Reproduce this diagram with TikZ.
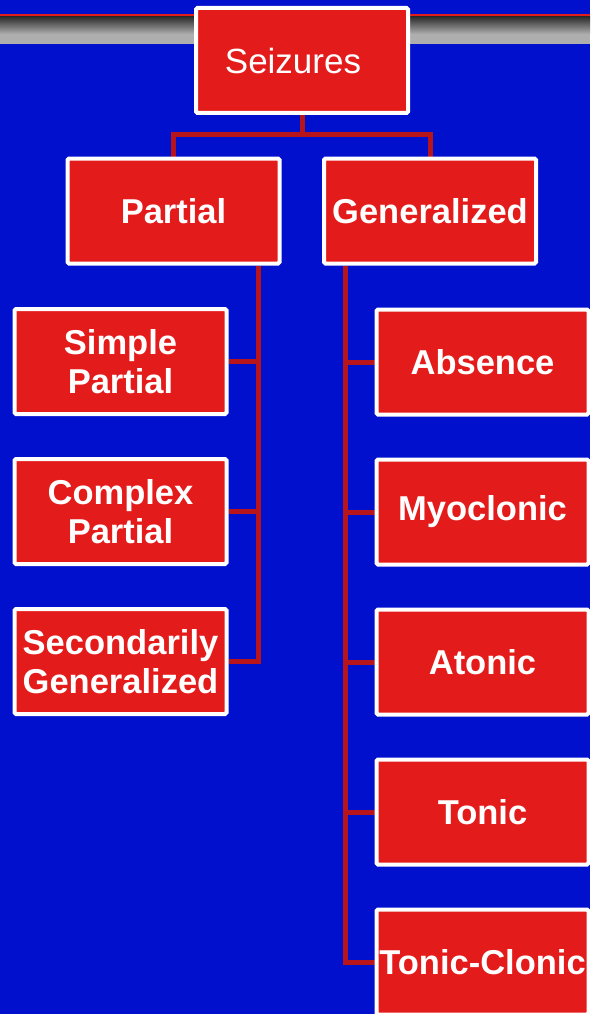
\documentclass[tikz,border=0pt]{standalone}
\usepackage{fontspec}
\setmainfont{Liberation Sans}
\definecolor{bgblue}{HTML}{0010CC}
\definecolor{boxred}{HTML}{E41B1B}
\definecolor{linered}{HTML}{B8141C}
\definecolor{banddark}{HTML}{2E2E2E}
\definecolor{bandlight}{HTML}{AEAEAE}
\pgfdeclarelayer{bglayer}
\pgfdeclarelayer{connlayer}
\pgfsetlayers{bglayer,connlayer,main}
\tikzset{
  box/.style={draw=white, line width=4pt, fill=boxred, minimum width=212pt, minimum height=105pt,
    inner sep=0pt, rounded corners=1.5pt, text=white, align=center,
    font=\fontsize{34.5}{39}\selectfont\bfseries},
  rootbox/.style={box, font=\fontsize{35}{39}\selectfont},
  conn/.style={draw=linered, line width=5pt, line join=miter}
}
\begin{document}
\begin{tikzpicture}[x=1pt,y=-1pt]
\useasboundingbox (0,0) rectangle (590,1014);
\begin{pgfonlayer}{bglayer}
\fill[bgblue] (0,0) rectangle (590,1014);
\fill[boxred] (0,14) rectangle (590,17);
\shade[top color=banddark, bottom color=bandlight] (0,17) rectangle (590,34);
\fill[bandlight] (0,34) rectangle (590,44);
\end{pgfonlayer}

% nodes
\node[rootbox] (seiz) at (302,60.5) {Seizures\hspace{18pt}};
\node[box] (partial) at (173.5,211) {Partial};
\node[box] (gen) at (430,211) {Generalized};
\node[box] (simple) at (120.5,361.5) {Simple\\Partial};
\node[box] (complex) at (120.5,511.5) {Complex\\Partial};
\node[box] (second) at (120.5,661.5) {Secondarily\\Generalized};
\node[box] (absence) at (482.5,362) {Absence};
\node[box] (myo) at (482.5,512) {Myoclonic};
\node[box] (atonic) at (482.5,662) {Atonic};
\node[box] (tonic) at (482.5,812) {Tonic};
\node[box] (tc) at (482.5,962) {Tonic-Clonic};

\coordinate (j) at (302,135);
\coordinate (lt) at (258,0);
\coordinate (rt) at (345.5,0);

\begin{pgfonlayer}{connlayer}
\draw[conn] (seiz.south) -- (j);
\draw[conn] (partial.north) |- (j) -| (gen.north);
\draw[conn] (lt |- partial.south) |- (second.east);
\draw[conn] (simple.east) -- (simple.east -| lt);
\draw[conn] (complex.east) -- (complex.east -| lt);
\draw[conn] (rt |- gen.south) |- (tc.west);
\draw[conn] (absence.west) -- (absence.west -| rt);
\draw[conn] (myo.west) -- (myo.west -| rt);
\draw[conn] (atonic.west) -- (atonic.west -| rt);
\draw[conn] (tonic.west) -- (tonic.west -| rt);
\end{pgfonlayer}
\end{tikzpicture}
\end{document}
